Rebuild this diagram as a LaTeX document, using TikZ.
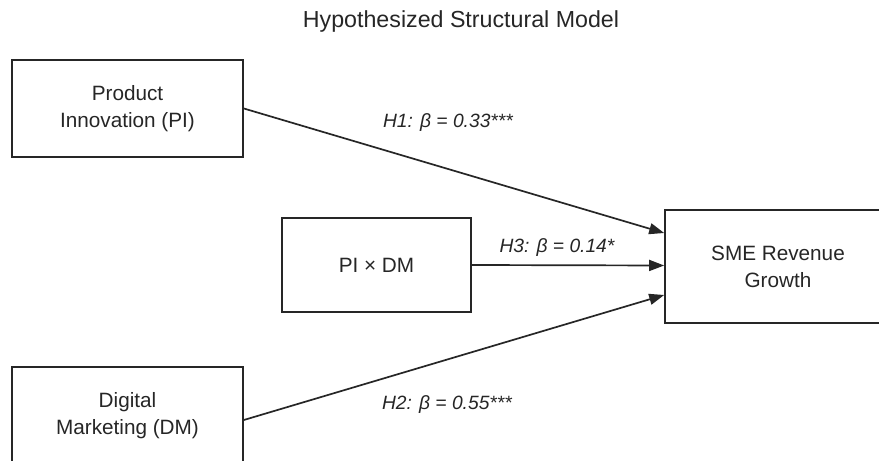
\documentclass[tikz,border=0pt]{standalone}
\usepackage{fontspec}
\setmainfont{Liberation Sans}
\usetikzlibrary{calc,arrows.meta}
\definecolor{ink}{HTML}{262626}
\tikzset{
  box/.style={draw=ink, line width=1.7pt, fill=white, text=ink, align=center,
    font=\fontsize{20.8}{27}\selectfont, inner sep=0pt},
  path/.style={draw=ink, line width=1.7pt, -{Triangle[length=15pt,width=11pt]}},
  coef/.style={text=ink, font=\fontsize{19.3}{23}\selectfont\itshape, anchor=base, inner sep=0pt},
}
\begin{document}
\begin{tikzpicture}[x=1bp,y=-1bp]
\useasboundingbox (0,0) rectangle (879,461);
\clip (0,0) rectangle (879,461);
\fill[white] (0,0) rectangle (879,461);
\node[text=ink, font=\fontsize{23.3}{27}\selectfont, anchor=base, inner sep=0pt] (title) at (461,28) {Hypothesized Structural Model};
\node[box, minimum width=231bp, minimum height=97bp] (pi) at (127.5,108.5) {Product\\Innovation (PI)};
\node[box, minimum width=231bp, minimum height=97bp] (dm) at (127.5,415.5) {Digital\\Marketing (DM)};
\node[box, minimum width=189bp, minimum height=94bp] (int) at (376.5,265) {PI × DM};
\node[box, minimum width=226bp, minimum height=113bp] (sme) at (778,266.5) {SME Revenue\\Growth};
\draw[path] (pi.east) -- ($(sme.west)+(0,-33.5)$);
\draw[path] (int.east) -- ($(sme.west)+(0,-1)$);
\draw[path] ($(dm.east)+(0,4.5)$) -- ($(sme.west)+(0,28.5)$);
\node[coef] (h1) at (448,128) {H1: β = 0.33***};
\node[coef] (h3) at (557,253) {H3: β = 0.14*};
\node[coef] (h2) at (447,409) {H2: β = 0.55***};
\end{tikzpicture}
\end{document}
